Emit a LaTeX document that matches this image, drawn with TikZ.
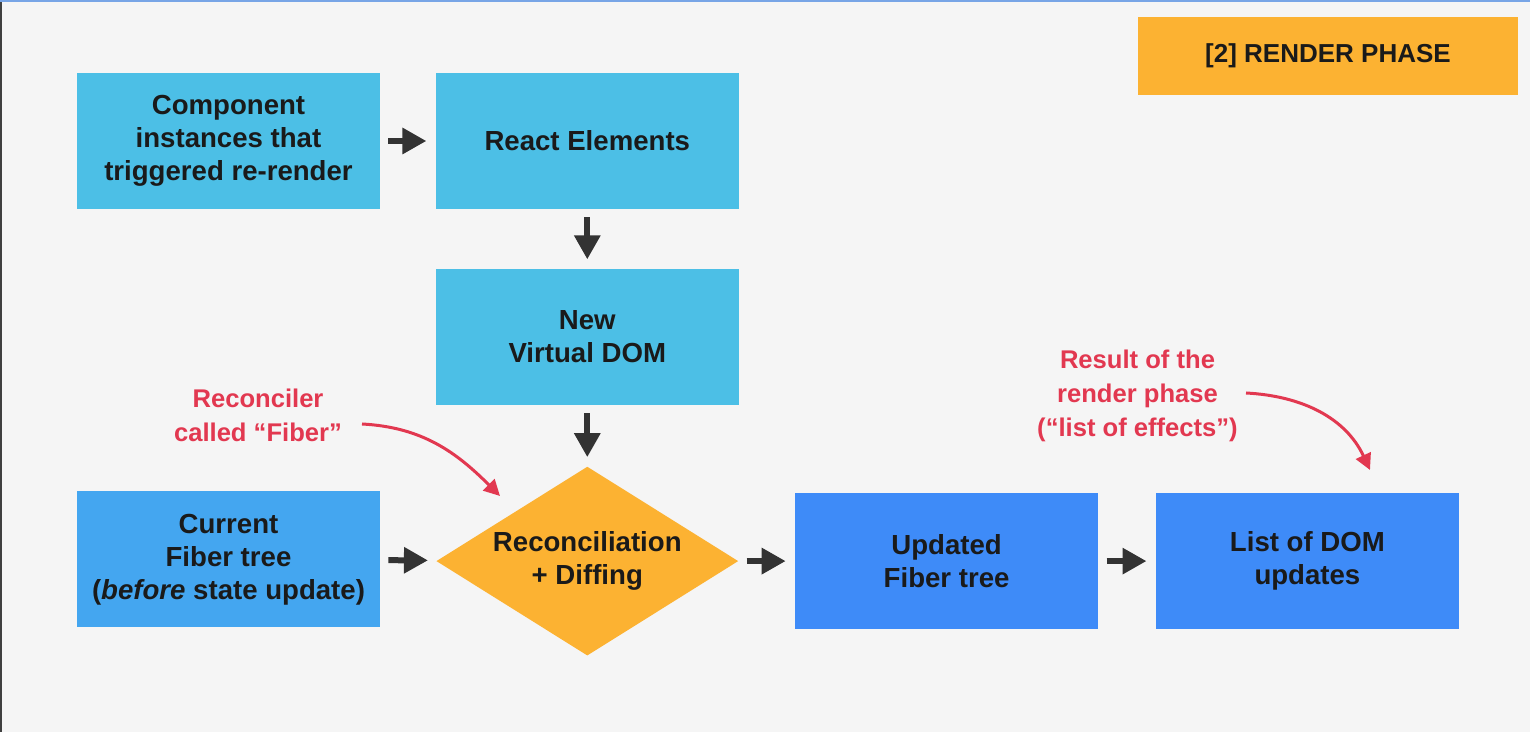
\documentclass[tikz,border=0pt]{standalone}
\usepackage{fontspec}
\setmainfont{Liberation Sans}
\usetikzlibrary{positioning,shapes.geometric,arrows.meta}
\definecolor{pagebg}{RGB}{245,245,245}
\definecolor{cyanbox}{RGB}{76,191,230}
\definecolor{midblue}{RGB}{68,166,240}
\definecolor{deepblue}{RGB}{62,139,248}
\definecolor{phaseorange}{RGB}{252,178,50}
\definecolor{notered}{RGB}{226,56,80}
\definecolor{arrowgrey}{RGB}{51,51,51}
\definecolor{inkdark}{RGB}{26,26,26}
\definecolor{edgeblue}{RGB}{120,165,230}

\begin{document}
\begin{tikzpicture}[x=0.5pt, y=0.5pt,
	box/.style={rectangle, minimum width=151.5pt, minimum height=68pt, inner sep=0pt, align=center, text=inkdark, font=\fontsize{13.8}{16.5}\selectfont\bfseries},
	diffbox/.style={diamond, aspect=1.6, fill=phaseorange, minimum width=151pt, minimum height=94.5pt, inner sep=0pt, align=center, text=inkdark, font=\fontsize{13.8}{16.5}\selectfont\bfseries},
	note/.style={notered, align=center, font=\fontsize{12.8}{17}\selectfont\bfseries},
	flow/.style={arrowgrey, line width=3pt, shorten <=4pt, shorten >=4.5pt, -{Triangle[length=12pt, width=12.5pt]}},
	notearrow/.style={notered, line width=1.5pt, -{Triangle[length=8pt, width=8pt]}}]
	\fill[pagebg] (0,0) rectangle (1530,732);
	\fill[edgeblue] (0,730) rectangle (1530,732);
	\fill[black!75] (0,0) rectangle (2,730);

	\node[box, fill=cyanbox] (comp) at (228.5,591) {Component\\instances that\\triggered re-render};
	\node[box, fill=cyanbox, right=27.5pt of comp] (react) {React Elements};
	\node[box, fill=cyanbox, below=29.5pt of react] (vdom) {New\\Virtual DOM};
	\node[diffbox, below=30.5pt of vdom] (diff) {Reconciliation\\+ Diffing};
	\node[box, fill=midblue] (curr) at (228.5,172.5) {Current\\Fiber tree\\(\textit{before} state update)};
	\node[box, fill=deepblue, right=28pt of diff] (upd) {Updated\\Fiber tree};
	\node[box, fill=deepblue, right=28.5pt of upd] (list) {List of DOM\\updates};

	\node[box, fill=phaseorange, minimum width=190pt, minimum height=39pt, font=\fontsize{13}{16.5}\selectfont\bfseries] (phase) at (1328,676) {[2] RENDER PHASE};

	\draw[flow] (comp) -- (react);
	\draw[flow] (react) -- (vdom);
	\draw[flow] (vdom) -- (diff);
	\draw[flow] (curr) -- (diff);
	\draw[flow] (diff) -- (upd);
	\draw[flow] (upd) -- (list);

	% red side notes
	\node[note] (fibnote) at (258,317) {Reconciler\\called “Fiber”};
	\node[note] (fxnote) at (1137.5,336.5) {Result of the\\render phase\\(“list of effects”)};
	\coordinate (fibtail) at (362,308);
	\coordinate (fibtip) at (500,236);
	\coordinate (fxtail) at (1246,339);
	\coordinate (fxtip) at (1370,262);
	\draw[notearrow] (fibtail) to[out=-3, in=135] (fibtip);
	\draw[notearrow] (fxtail) to[out=-3, in=115] (fxtip);
\end{tikzpicture}
\end{document}
